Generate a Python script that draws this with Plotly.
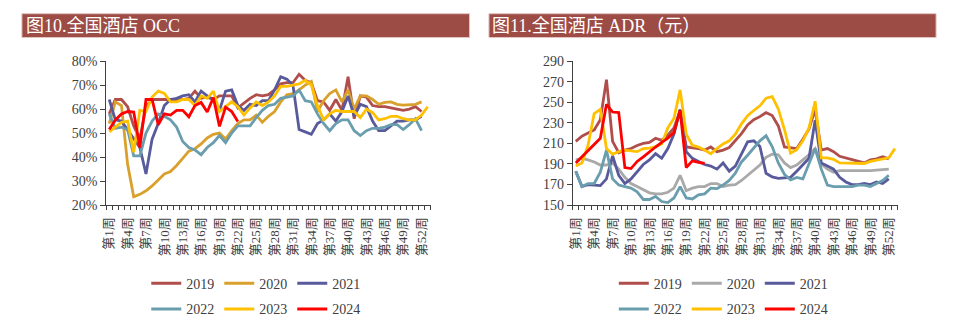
import plotly.graph_objects as go

weeks = list(range(1, 54))
label_weeks = weeks[::3]
label_text = [f"第{w}周" for w in label_weeks]

years = ["2019", "2020", "2021", "2022", "2023", "2024"]

occ_2019 = [58, 64, 64, 61, 53, 47.5, 61, 64, 64, 64,
            64, 64, 64, 64.5, 67.5, 64.5, 65, 64, 65.5, 65.5,
            65.5, 60.5, 62.5, 64.5, 66, 65.5, 66, 68, 70.5, 71,
            71, 74.5, 72, 71, 63.5, 63, 59.5, 64, 59.5, 73.5,
            56, 65.5, 65, 61.5, 61, 61, 60.5, 60, 59.5, 60,
            61, 59]
occ_2020 = [54, 63, 61.5, 37, 23.5, 24.5, 26, 28, 30.5, 33,
            34, 36.5, 39.5, 42.5, 43.5, 45.5, 48, 49.5, 50, 47.5,
            51, 54, 55.5, 55.5, 57.5, 54.5, 57, 59, 63, 66,
            66.5, 68, 70, 71.5, 59, 63.5, 66.5, 68, 63, 68,
            60, 65.5, 65.5, 64, 62, 62.8, 63, 62, 61.7, 61.7,
            62, 63]
occ_2021 = [64, 55.5, 55, 51.5, 48, 44, 33, 47.5, 54, 61.5,
            64, 64.5, 65.5, 66, 63, 67.5, 65.5, 64, 59.5, 67.5,
            68, 61.5, 59.5, 62, 61.5, 63.5, 63.5, 68, 73.5, 72.5,
            70, 51.5, 50.5, 49.5, 54, 55.5, 58, 55, 59, 65.5,
            57, 62, 61, 55, 51, 51, 53, 55, 55, 55.5,
            55.5, 57]
occ_2022 = [58, 52, 52.5, 51.5, 40.5, 40.5, 50, 55, 58, 57,
            55.5, 52.5, 46.5, 44, 43, 41, 44, 46, 49, 46,
            50, 53, 53, 53, 56.5, 59.5, 61.5, 62, 64.5, 65,
            65.5, 68, 63.5, 63, 58, 54, 51, 54, 55.5, 55.5,
            51, 49, 51, 52, 52, 52.5, 53.5, 53.5, 51.5, 53.5,
            56, 51]
occ_2023 = [50.5, 52.5, 54.5, 55, 42, 59.5, 59, 65, 67.5, 66.5,
            63, 63, 64, 64, 61.5, 65.5, 64.5, 67.5, 59, 61,
            63, 61, 57.5, 60.5, 63, 61.5, 63, 65.5, 69.5, 69.5,
            70, 70.5, 72, 70, 61.5, 55.5, 58, 59.5, 59, 59,
            59, 56.5, 60, 58.5, 55.5, 56, 57, 57, 56, 55.5,
            55.5, 57.5, 61]
occ_2024 = [51.5, 55.5, 58, 59, 58.8, 44, 64, 64, 53.5, 58,
            57.5, 59.5, 59.5, 56.8, 61.5, 62.8, 58.8, 64.8, 52.8, 60.8,
            59, 54.8]

adr_2019 = [212, 217, 220, 223, 233, 272, 212, 201, 203.5, 205,
            208, 210, 211, 215, 213, 218, 225, 242, 206.5, 206,
            205, 203.5, 206.5, 202, 203.5, 206, 212.5, 219.5, 228, 233,
            236, 240, 237, 227, 206.5, 206, 205, 214, 224, 243,
            203.5, 205, 202, 197.5, 196, 194, 193, 191, 194, 195,
            197, 195]
adr_2020 = [194, 195.5, 194, 192, 189, 189, 191, 185, 177, 171,
            168, 165, 162, 161, 161, 162.5, 166.5, 179, 164, 166.5,
            168, 168, 171, 171, 168, 169.5, 170, 174, 179, 184,
            189, 196.5, 199.5, 199, 191, 186.5, 189, 194, 199, 205,
            190, 185, 182, 183.5, 183.5, 183, 183, 183.5, 183.5, 184,
            184.5, 185]
adr_2021 = [183, 168, 170, 169.5, 169, 175.5, 198, 179, 171, 175.5,
            182, 189.5, 194, 200, 195.5, 205, 219, 243, 202, 195.5,
            192.5, 189.5, 188, 185, 191, 183, 188, 200, 211.5, 212.5,
            207, 181, 177.5, 176, 176.5, 177, 183, 189.5, 195.5, 232.5,
            191, 188, 185, 177, 172.5, 170, 170, 171, 170, 172.5,
            171, 175.5]
adr_2022 = [183, 168, 171, 171, 182, 203.5, 175.5, 169.5, 168, 166.5,
            163, 155.5, 155.5, 158.5, 153.5, 152.5, 157, 168, 157, 156,
            160, 161, 166.5, 166, 169.5, 174, 181, 192, 198.5, 205,
            212.5, 217.5, 207, 191, 180, 174.5, 177, 175.5, 189.5, 205,
            185, 169.5, 168, 168, 168, 168, 169.5, 169.5, 168, 171,
            174, 179]
adr_2023 = [188, 191, 208, 239, 243, 205, 199.5, 202, 203.5, 203,
            202, 205, 205.5, 207, 209.5, 225, 234.5, 262, 219, 208,
            206.5, 203.5, 200, 205, 209.5, 212.5, 219, 229, 237, 242,
            246.5, 254, 255.5, 243.5, 223.5, 200.5, 204, 212.5, 225, 251,
            196, 196, 194.5, 191, 191, 191, 191, 190.5, 192.5, 193.5,
            195, 196, 205]
adr_2024 = [191, 197, 203.5, 209.5, 215, 248, 240.5, 240, 186.5, 185.5,
            192.5, 197, 202, 206.5, 211, 215, 220.5, 242, 186.5, 193,
            191.5, 190.5]

occ_series = [occ_2019, occ_2020, occ_2021, occ_2022, occ_2023, occ_2024]
adr_series = [adr_2019, adr_2020, adr_2021, adr_2022, adr_2023, adr_2024]

occ_colors = ["#B04E4B", "#D9A02C", "#585A9C", "#6A9DAE", "#FFC000", "#FF0000"]
adr_colors = ["#B04E4B", "#A9A9A9", "#585A9C", "#6A9DAE", "#FFC000", "#FF0000"]

W, H = 953, 326
SERIF = "Liberation Serif, Times New Roman, Noto Sans CJK SC, serif"
AXC = "#404040"


def px(x):
    return x / W


def py(y):
    return 1 - y / H


fig = go.Figure()

for i, (yr, vals) in enumerate(zip(years, occ_series)):
    fig.add_trace(go.Scatter(
        x=weeks[:len(vals)], y=vals, mode="lines", name=yr,
        line=dict(color=occ_colors[i], width=2.8),
        xaxis="x", yaxis="y",
        legend="legend" if i < 3 else "legend2",
        hoverinfo="skip"))

for i, (yr, vals) in enumerate(zip(years, adr_series)):
    fig.add_trace(go.Scatter(
        x=weeks[:len(vals)], y=vals, mode="lines", name=yr,
        line=dict(color=adr_colors[i], width=2.8),
        xaxis="x2", yaxis="y2",
        legend="legend3" if i < 3 else "legend4",
        hoverinfo="skip"))

minor_vals = [w - 0.5 for w in weeks] + [weeks[-1] + 0.5]

xcommon = dict(
    range=[0.5, 53.5], tickmode="array", tickvals=label_weeks, ticktext=label_text,
    tickangle=-90, ticks="", showgrid=False, zeroline=False,
    showline=True, linecolor=AXC, linewidth=1,
    tickfont=dict(family=SERIF, size=13, color=AXC),
    ticklabelstandoff=6,
    minor=dict(tickvals=minor_vals, ticks="outside", ticklen=4, tickcolor=AXC, showgrid=False),
    fixedrange=True,
)
ycommon = dict(
    showgrid=False, zeroline=False, showline=True, linecolor=AXC, linewidth=1,
    ticks="outside", ticklen=5, tickcolor=AXC,
    tickfont=dict(family=SERIF, size=14, color=AXC), fixedrange=True,
)

fig.update_layout(
    width=W, height=H,
    margin=dict(l=0, r=0, t=0, b=0),
    paper_bgcolor="white", plot_bgcolor="white",
    xaxis=dict(domain=[px(101.7), px(428)], anchor="y", **xcommon),
    yaxis=dict(domain=[py(207.7), py(56.7)], anchor="x", range=[20, 80],
               tick0=20, dtick=10, ticksuffix="%", **ycommon),
    xaxis2=dict(domain=[px(570.7), px(897.7)], anchor="y2", **xcommon),
    yaxis2=dict(domain=[py(207.7), py(56.7)], anchor="x2", range=[150, 290],
                tick0=150, dtick=20, **ycommon),
    showlegend=True,
)

leg_common = dict(orientation="h", xanchor="left", yanchor="middle",
                  bgcolor="rgba(0,0,0,0)", font=dict(family=SERIF, size=14, color=AXC),
                  itemclick=False, itemdoubleclick=False)
fig.update_layout(
    legend=dict(x=px(142), y=py(290), **leg_common),
    legend2=dict(x=px(142), y=py(317), **leg_common),
    legend3=dict(x=px(612), y=py(290), **leg_common),
    legend4=dict(x=px(612), y=py(317), **leg_common),
)

# title bars
bar_color = "#9D4B45"
fig.add_shape(type="rect", xref="paper", yref="paper",
              x0=px(17), x1=px(467), y0=py(32), y1=py(7),
              fillcolor=bar_color, line=dict(color="#E3C4C0", width=1), layer="below")
fig.add_shape(type="rect", xref="paper", yref="paper",
              x0=px(486.5), x1=px(936), y0=py(32), y1=py(7),
              fillcolor=bar_color, line=dict(color="#E3C4C0", width=1), layer="below")
fig.add_annotation(text="图10.全国酒店 OCC", xref="paper", yref="paper",
                   x=px(19), y=py(19.5), xanchor="left", yanchor="middle", showarrow=False,
                   font=dict(family=SERIF, size=18, color="white"))
fig.add_annotation(text="图11.全国酒店 ADR（元）", xref="paper", yref="paper",
                   x=px(488), y=py(19.5), xanchor="left", yanchor="middle", showarrow=False,
                   font=dict(family=SERIF, size=18, color="white"))

fig.write_html("out.html")
